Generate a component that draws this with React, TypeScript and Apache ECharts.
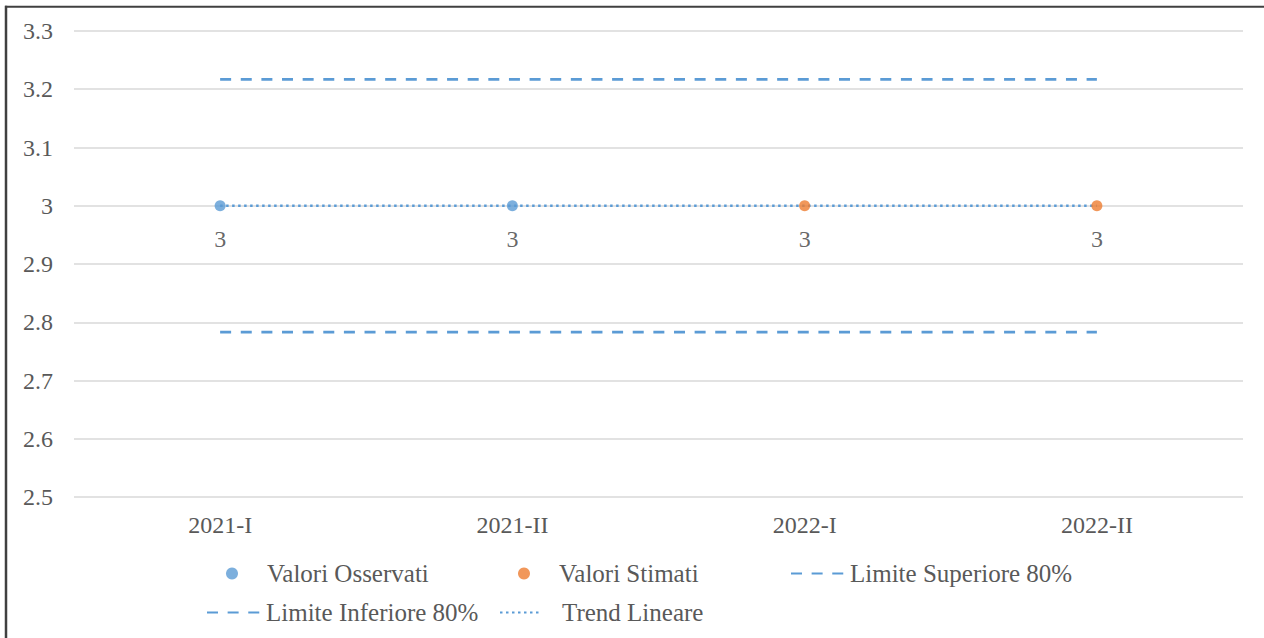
import React, { useEffect, useRef } from "react";
import * as echarts from "echarts";

const categories = ["2021-I", "2021-II", "2022-I", "2022-II"];
const observed: (number | string)[] = [3, 3, "-", "-"];
const estimated: (number | string)[] = ["-", "-", 3, 3];
const upperLimit = [3.217, 3.217, 3.217, 3.217];
const lowerLimit = [2.783, 2.783, 2.783, 2.783];
const trend = [3, 3, 3, 3];
const yMin = 2.5;
const yMax = 3.3;
const yStep = 0.1;

const BLUE = "#5b9bd5";
const ORANGE = "#ed7d31";
const FONT = "Liberation Serif";
const TEXT = "#595959";
const HIDDEN = { color: "rgba(0,0,0,0)", borderColor: "rgba(0,0,0,0)", borderWidth: 0, opacity: 0 };

export default function App() {
  const ref = useRef<HTMLDivElement>(null);
  useEffect(() => {
    if (!ref.current) return;
    const chart = echarts.init(ref.current, undefined, { renderer: "svg" });
    const legendText = { fontFamily: FONT, fontSize: 25, color: TEXT };
    const dataLabel = {
      show: true,
      position: "bottom",
      distance: 16,
      fontFamily: FONT,
      fontSize: 24,
      color: "#404040",
    };
    chart.setOption({
      animation: false,
      backgroundColor: "#ffffff",
      textStyle: { fontFamily: FONT },
      grid: { left: 74, right: 21, top: 31, bottom: 141 },
      xAxis: {
        type: "category",
        data: categories,
        boundaryGap: true,
        axisLine: { show: false },
        axisTick: { show: false },
        splitLine: { show: false },
        axisLabel: { fontFamily: FONT, fontSize: 24, color: TEXT, margin: 16 },
      },
      yAxis: {
        type: "value",
        min: yMin,
        max: yMax,
        interval: yStep,
        axisLine: { show: false },
        axisTick: { show: false },
        splitLine: { lineStyle: { color: "#d9d9d9", width: 1.5 } },
        axisLabel: {
          fontFamily: FONT,
          fontSize: 24,
          color: TEXT,
          margin: 21,
          formatter: (v: number) => String(Math.round(v * 10) / 10),
        },
      },
      legend: [
        {
          data: [{ name: "Valori Osservati", icon: "circle" }],
          left: 226, top: 561, padding: 0, itemWidth: 12, itemHeight: 12,
          textStyle: { ...legendText, padding: [0, 0, 0, 24] },
        },
        {
          data: [{ name: "Valori Stimati", icon: "circle" }],
          left: 518, top: 561, padding: 0, itemWidth: 12, itemHeight: 12,
          textStyle: { ...legendText, padding: [0, 0, 0, 24] },
        },
        {
          data: [{ name: "Limite Superiore 80%", itemStyle: HIDDEN }],
          left: 790, top: 561, padding: 0, itemWidth: 54, itemHeight: 12,
          textStyle: legendText,
        },
        {
          data: [{ name: "Limite Inferiore 80%", itemStyle: HIDDEN }],
          left: 206, top: 600, padding: 0, itemWidth: 54, itemHeight: 12,
          textStyle: legendText,
        },
        {
          data: [{ name: "Trend Lineare", itemStyle: HIDDEN }],
          left: 499, top: 600, padding: 0, itemWidth: 42, itemHeight: 12,
          textStyle: { ...legendText, padding: [0, 0, 0, 15] },
        },
      ],
      graphic: [
        { type: "line", shape: { x1: 5, y1: 6.7, x2: 1264, y2: 6.7 }, style: { stroke: "#404040", lineWidth: 2 } },
        { type: "line", shape: { x1: 6, y1: 5.7, x2: 6, y2: 638 }, style: { stroke: "#404040", lineWidth: 2.5 } },
      ],
      series: [
        { name: "Limite Superiore 80%", type: "line", data: upperLimit, showSymbol: false, symbol: "none",
          lineStyle: { color: BLUE, width: 2.75, type: [11, 9.63] }, itemStyle: { color: BLUE }, z: 2 },
        { name: "Limite Inferiore 80%", type: "line", data: lowerLimit, showSymbol: false, symbol: "none",
          lineStyle: { color: BLUE, width: 2.75, type: [11, 9.63] }, itemStyle: { color: BLUE }, z: 2 },
        { name: "Trend Lineare", type: "line", data: trend, showSymbol: false, symbol: "none",
          lineStyle: { color: BLUE, width: 2.5, type: [2.5, 3.5] }, itemStyle: { color: BLUE }, z: 3 },
        { name: "Valori Osservati", type: "scatter", data: observed, symbol: "circle", symbolSize: 11,
          itemStyle: { color: BLUE }, label: dataLabel, z: 5 },
        { name: "Valori Stimati", type: "scatter", data: estimated, symbol: "circle", symbolSize: 11,
          itemStyle: { color: ORANGE }, label: dataLabel, z: 5 },
      ],
    });
    return () => chart.dispose();
  }, []);
  return (
    <div ref={ref} style={{ position: "absolute", left: 0, top: 0, width: 1264, height: 638 }} />
  );
}
